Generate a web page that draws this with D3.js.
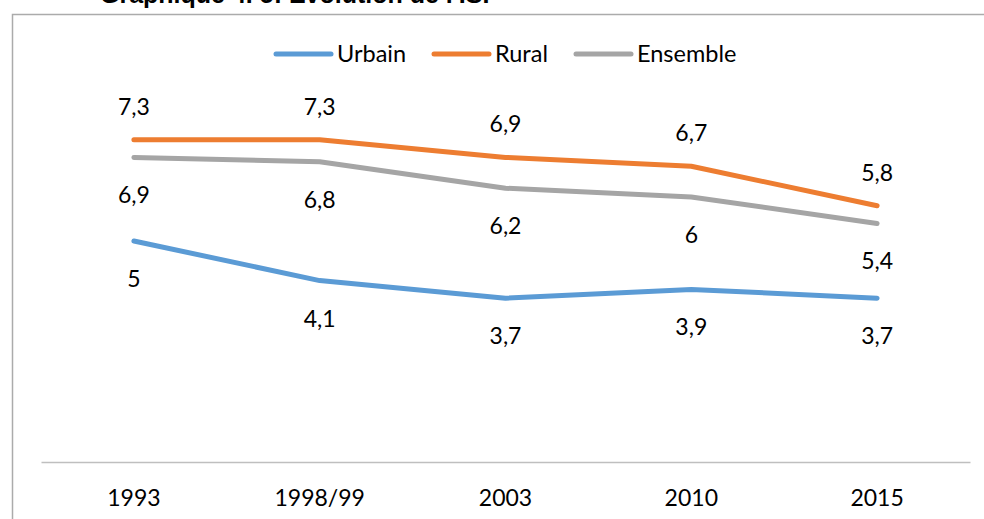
<!DOCTYPE html>
<html>
<head>
<meta charset="utf-8">
<script src="https://cdn.jsdelivr.net/npm/d3@7"></script>
<style>
  body { margin: 0; background: #fff; }
  svg { display: block; }
  text { font-family: Lato, "Open Sans", sans-serif; fill: #000; }
</style>
</head>
<body>
<svg width="984" height="519"></svg>
<script>
// data
let years = ["1993", "1998/99", "2003", "2010", "2015"];
let urbain = [5, 4.1, 3.7, 3.9, 3.7];
let rural = [7.3, 7.3, 6.9, 6.7, 5.8];
let ensemble = [6.9, 6.8, 6.2, 6, 5.4];

let seriesNames = ["Urbain", "Rural", "Ensemble"];
let seriesColors = ["#5B9BD5", "#ED7D31", "#A5A5A5"];

let svg = d3.select("svg");

// chart frame (right and bottom edges fall outside the picture)
svg.append("rect")
    .attr("x", 12.5)
    .attr("y", 14.5)
    .attr("width", 1000)
    .attr("height", 520)
    .attr("fill", "none")
    .attr("stroke", "#ababab")
    .attr("stroke-width", 1.5);

// title, mostly cut off at the top
svg.append("text")
    .attr("x", 100)
    .attr("y", 3)
    .attr("font-weight", "bold")
    .attr("font-size", "25px")
    .style("font-family", "'Liberation Sans', Arial, sans-serif")
    .text("Graphique 4. 5: Evolution de l'ISF");

let xScale = d3.scaleBand()
    .domain(years)
    .range([41, 970]);
let yScale = d3.scaleLinear()
    .domain([0, 8])
    .range([461, 109]);

let xc = d => xScale(d) + xScale.bandwidth() / 2;

// x axis
let xAxis = svg.append("g")
    .attr("transform", "translate(0,462)")
    .call(d3.axisBottom(xScale).tickSize(0).tickPadding(28));
xAxis.select(".domain")
    .attr("stroke", "#bfbfbf")
    .attr("stroke-width", 1.5);
xAxis.selectAll("text")
    .attr("font-family", null)
    .attr("font-size", "23px")
    .attr("fill", "#000");

let series = [
    {name: "Urbain", values: urbain, pos: "below"},
    {name: "Rural", values: rural, pos: "above"},
    {name: "Ensemble", values: ensemble, pos: "below"}
];
let colorScale = d3.scaleOrdinal().domain(seriesNames).range(seriesColors);

let line = d3.line()
    .x((d, i) => xc(years[i]))
    .y(d => yScale(d));

let fmt = v => String(v).replace(".", ",");

series.forEach(s => {
    svg.append("path")
        .datum(s.values)
        .attr("fill", "none")
        .attr("stroke", colorScale(s.name))
        .attr("stroke-width", 5)
        .attr("stroke-linejoin", "round")
        .attr("stroke-linecap", "round")
        .attr("d", line);

    svg.append("g").selectAll("text")
        .data(s.values)
        .join("text")
        .attr("x", (d, i) => xc(years[i]))
        .attr("y", d => yScale(d) + (s.pos == "above" ? -33 : 38))
        .attr("dy", "0.35em")
        .attr("text-anchor", "middle")
        .attr("font-size", "23px")
        .text(d => fmt(d));
});

// legend
let legendX = [276, 434, 576];
let legend = svg.append("g");
seriesNames.forEach((name, i) => {
    legend.append("line")
        .attr("x1", legendX[i])
        .attr("x2", legendX[i] + 55)
        .attr("y1", 54)
        .attr("y2", 54)
        .attr("stroke", colorScale(name))
        .attr("stroke-width", 5)
        .attr("stroke-linecap", "round");
    legend.append("text")
        .attr("x", legendX[i] + 61)
        .attr("y", 54)
        .attr("dy", "0.35em")
        .attr("font-size", "23.5px")
        .text(name);
});
</script>
</body>
</html>
